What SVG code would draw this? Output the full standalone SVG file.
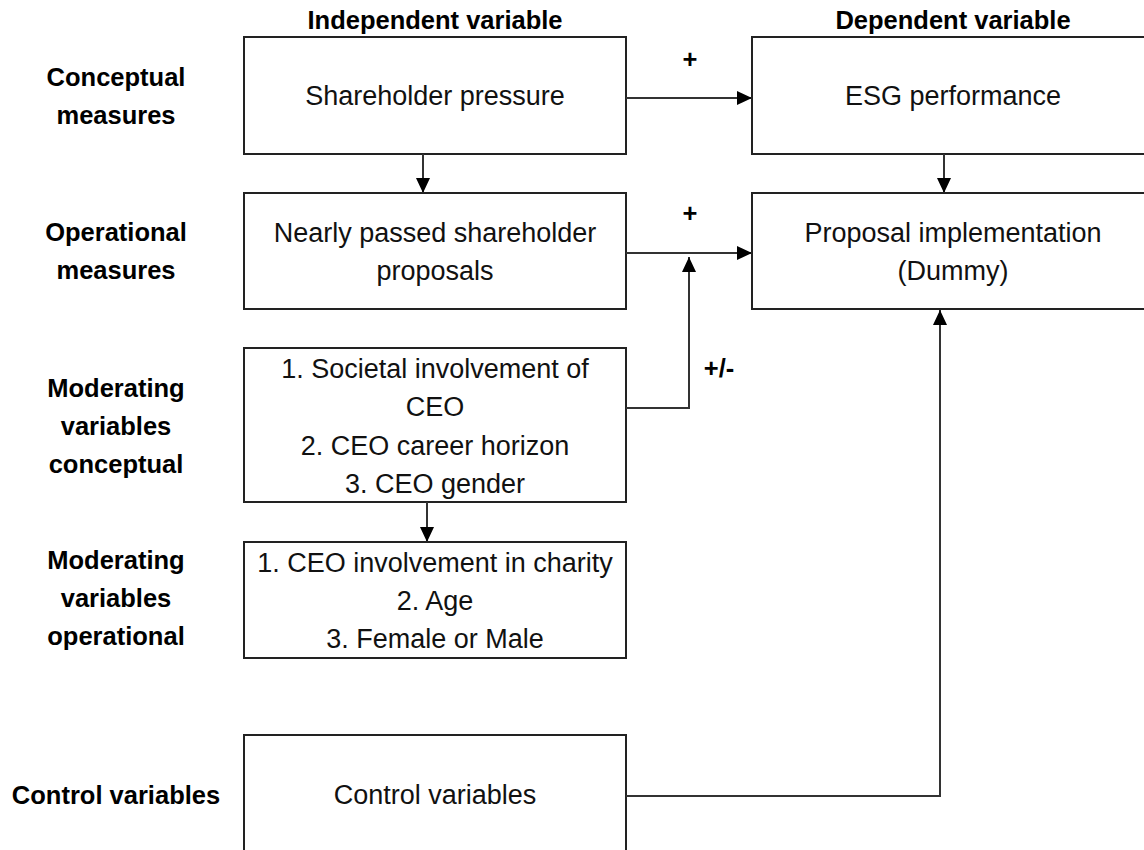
<svg xmlns="http://www.w3.org/2000/svg" width="1144" height="850" viewBox="0 0 1144 850">
<defs>
<style>
.box{fill:#fff;stroke:#222;stroke-width:2}
.t{font-family:"Liberation Sans",Arial,sans-serif;font-size:27px;fill:#111;text-anchor:middle}
.b{font-family:"Liberation Sans",Arial,sans-serif;font-size:25.5px;font-weight:bold;fill:#000;text-anchor:middle}
.c{fill:none;stroke:#333;stroke-width:2}
</style>
<marker id="ah" viewBox="0 0 15 14" refX="15" refY="7" markerWidth="15" markerHeight="14" markerUnits="userSpaceOnUse" orient="auto">
<path d="M0,0 L15,7 L0,14 Z" fill="#000"/>
</marker>
</defs>
<rect width="1144" height="850" fill="#fff"/>

<g id="headings">
<text class="b" x="435" y="29">Independent variable</text>
<text class="b" x="953" y="29">Dependent variable</text>
</g>

<g id="row-labels">
<text class="b" x="116" y="86">Conceptual</text>
<text class="b" x="116" y="124">measures</text>
<text class="b" x="116" y="241">Operational</text>
<text class="b" x="116" y="279">measures</text>
<text class="b" x="116" y="397">Moderating</text>
<text class="b" x="116" y="435">variables</text>
<text class="b" x="116" y="473">conceptual</text>
<text class="b" x="116" y="569">Moderating</text>
<text class="b" x="116" y="607">variables</text>
<text class="b" x="116" y="645">operational</text>
<text class="b" x="116" y="804">Control variables</text>
</g>

<g id="shareholder-pressure">
<rect class="box" x="244" y="37" width="382" height="117"/>
<text class="t" x="435" y="105">Shareholder pressure</text>
</g>

<g id="esg-performance">
<rect class="box" x="752" y="37" width="402" height="117"/>
<text class="t" x="953" y="105">ESG performance</text>
</g>

<g id="nearly-passed">
<rect class="box" x="244" y="193" width="382" height="116"/>
<text class="t" x="435" y="242">Nearly passed shareholder</text>
<text class="t" x="435" y="280">proposals</text>
</g>

<g id="proposal-implementation">
<rect class="box" x="752" y="193" width="402" height="116"/>
<text class="t" x="953" y="242">Proposal implementation</text>
<text class="t" x="953" y="280">(Dummy)</text>
</g>

<g id="moderating-conceptual">
<rect class="box" x="244" y="348" width="382" height="154"/>
<text class="t" x="435" y="378">1. Societal involvement of</text>
<text class="t" x="435" y="416">CEO</text>
<text class="t" x="435" y="455">2. CEO career horizon</text>
<text class="t" x="435" y="493">3. CEO gender</text>
</g>

<g id="moderating-operational">
<rect class="box" x="244" y="542" width="382" height="116"/>
<text class="t" x="435" y="572">1. CEO involvement in charity</text>
<text class="t" x="435" y="610">2. Age</text>
<text class="t" x="435" y="648">3. Female or Male</text>
</g>

<g id="control-variables">
<rect class="box" x="244" y="735" width="382" height="140"/>
<text class="t" x="435" y="804">Control variables</text>
</g>

<g id="connectors">
<path class="c" d="M626,98 H752" marker-end="url(#ah)"/>
<path class="c" d="M423,154 V193" marker-end="url(#ah)"/>
<path class="c" d="M944,154 V193" marker-end="url(#ah)"/>
<path class="c" d="M626,253 H752" marker-end="url(#ah)"/>
<path class="c" d="M626,408 H689 V257" marker-end="url(#ah)"/>
<path class="c" d="M427,502 V542" marker-end="url(#ah)"/>
<path class="c" d="M626,796 H940 V310" marker-end="url(#ah)"/>
</g>

<g id="connector-labels">
<text class="b" x="690" y="68">+</text>
<text class="b" x="690" y="222">+</text>
<text class="b" x="719" y="377">+/-</text>
</g>
</svg>
